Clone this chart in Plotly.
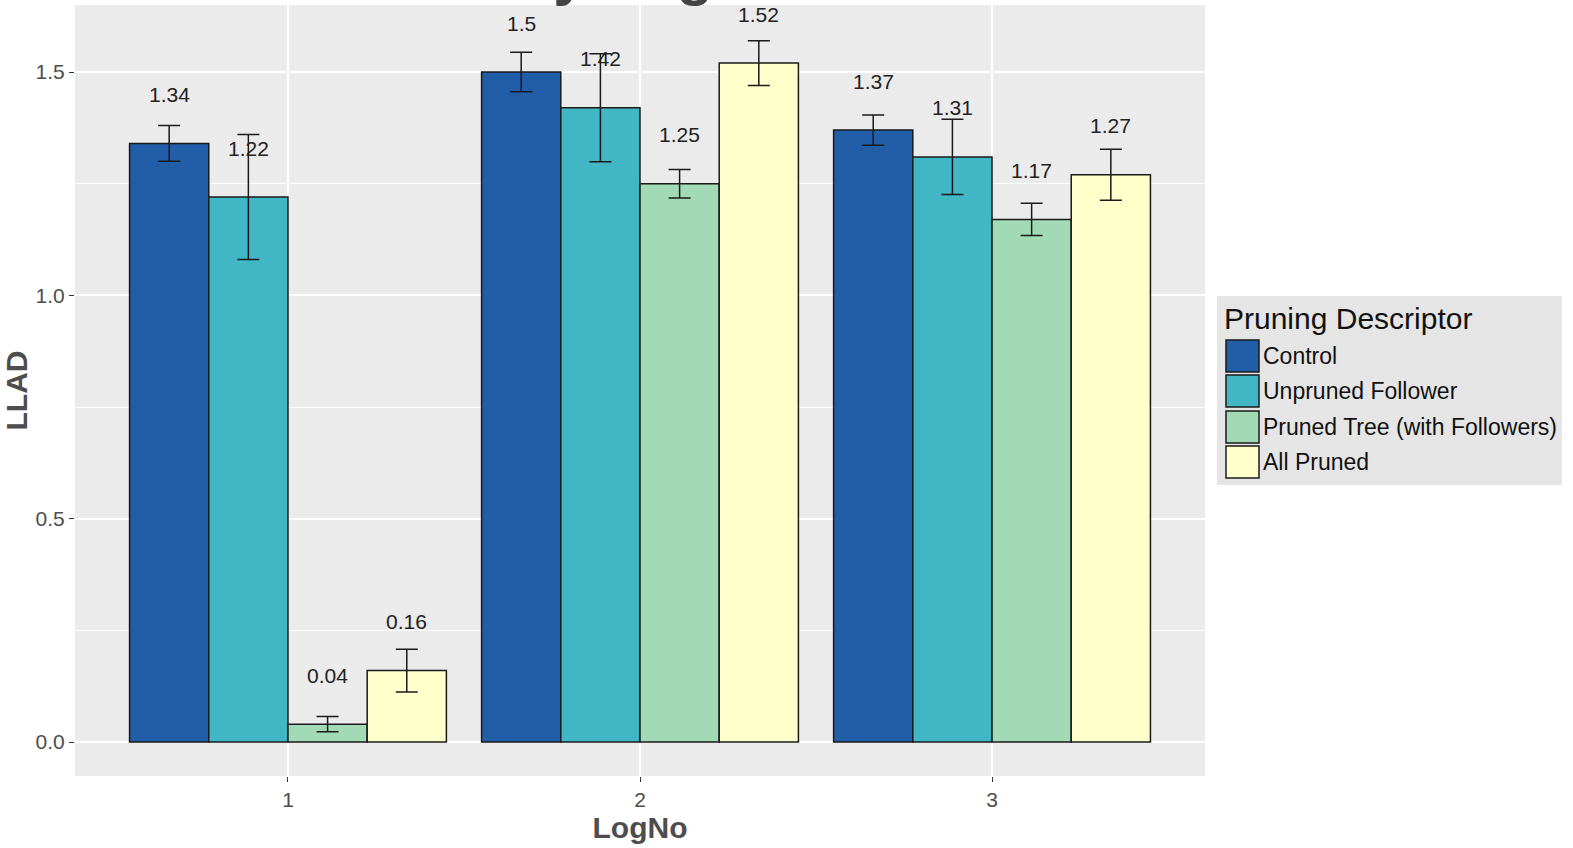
import plotly.graph_objects as go

# ---- data ----
log_no = [1, 2, 3]
series_names = ["Control", "Unpruned Follower", "Pruned Tree (with Followers)", "All Pruned"]
control = [1.34, 1.50, 1.37]
unpruned = [1.22, 1.42, 1.31]
pruned_tree = [0.04, 1.25, 1.17]
all_pruned = [0.16, 1.52, 1.27]
control_err = [0.040, 0.044, 0.034]
unpruned_err = [0.140, 0.121, 0.084]
pruned_tree_err = [0.017, 0.032, 0.036]
all_pruned_err = [0.048, 0.050, 0.057]
colors = ["#225EA8", "#41B6C4", "#A1DAB4", "#FFFFCC"]

values = [control, unpruned, pruned_tree, all_pruned]
errors = [control_err, unpruned_err, pruned_tree_err, all_pruned_err]

W, H = 1573, 848
ML, MR, MT, MB = 75, 368, 5, 72
PW, PH = W - ML - MR, H - MT - MB
FONT = "Liberation Sans, Arial"


def px_x(p):
    return (p - ML) / PW


def px_y(p):
    return 1 - (p - MT) / PH


bargap = 0.1
n = len(series_names)
bw = (1 - bargap) / n

fig = go.Figure()
annotations = []
for i, (name, vals, errs, col) in enumerate(zip(series_names, values, errors, colors)):
    fig.add_trace(go.Bar(
        x=log_no, y=vals, name=name,
        marker=dict(color=col, line=dict(color="#1a1a1a", width=1.5)),
        error_y=dict(type="data", array=errs, visible=True, color="#1a1a1a",
                     thickness=1.5, width=11),
        showlegend=False,
    ))
    off = -(1 - bargap) / 2 + bw * (i + 0.5)
    for xv, v in zip(log_no, vals):
        annotations.append(dict(
            x=xv + off, y=v, xref="x", yref="y", text=f"{v:g}",
            showarrow=False, yanchor="middle", yshift=49,
            font=dict(family=FONT, size=21, color="#222222"),
        ))

# custom legend (ggplot style)
shapes = [dict(type="rect", xref="paper", yref="paper",
               x0=px_x(1217), x1=px_x(1562), y0=px_y(485), y1=px_y(296),
               fillcolor="#E5E5E5", line=dict(width=0), layer="below")]
annotations.append(dict(
    x=px_x(1222), y=px_y(318), xref="paper", yref="paper", text="Pruning Descriptor",
    showarrow=False, xanchor="left", yanchor="middle",
    font=dict(family=FONT, size=30, color="#111111")))
row_centers = [356, 391, 427, 462]
for name, col, cy in zip(series_names, colors, row_centers):
    shapes.append(dict(type="rect", xref="paper", yref="paper",
                       x0=px_x(1226), x1=px_x(1259), y0=px_y(cy + 16), y1=px_y(cy - 16),
                       fillcolor=col, line=dict(color="#1a1a1a", width=1.5)))
    annotations.append(dict(
        x=px_x(1261), y=px_y(cy), xref="paper", yref="paper", text=name,
        showarrow=False, xanchor="left", yanchor="middle",
        font=dict(family=FONT, size=23, color="#111111")))

# clipped title (only descenders visible in reference)
annotations.append(dict(
    x=px_x(338), y=1, xref="paper", yref="paper", text="<b>LLAD by LogNo</b>",
    showarrow=False, xanchor="left", yanchor="bottom", yshift=-4,
    font=dict(family=FONT, size=60, color="#444444")))

fig.update_layout(
    width=W, height=H,
    margin=dict(l=ML, r=MR, t=MT, b=MB, pad=0),
    paper_bgcolor="white", plot_bgcolor="#EBEBEB",
    barmode="group", bargap=bargap, bargroupgap=0,
    showlegend=False,
    annotations=annotations, shapes=shapes,
    font=dict(family=FONT),
)
fig.update_xaxes(
    range=[0.395, 3.605], tickvals=log_no, ticktext=[str(v) for v in log_no],
    showgrid=True, gridcolor="white", gridwidth=2, zeroline=False,
    ticks="outside", ticklen=5, tickcolor="#333333", tickwidth=1,
    tickfont=dict(size=21, color="#4D4D4D"),
    title=dict(text="<b>LogNo</b>", font=dict(size=30, color="#4D4D4D"), standoff=4),
)
fig.update_yaxes(
    range=[-0.076, 1.65], tickvals=[0, 0.5, 1.0, 1.5], ticktext=["0.0", "0.5", "1.0", "1.5"],
    showgrid=True, gridcolor="white", gridwidth=2, zeroline=False,
    minor=dict(tickvals=[0.25, 0.75, 1.25], showgrid=True, gridcolor="white", gridwidth=1, ticks=""),
    ticks="outside", ticklen=5, tickcolor="#333333", tickwidth=1,
    tickfont=dict(size=21, color="#4D4D4D"),
    title=dict(text="<b>LLAD</b>", font=dict(size=30, color="#4D4D4D"), standoff=8),
)

fig.write_html("out.html", config={"displayModeBar": False},
               post_script="document.body.style.margin='0';")
